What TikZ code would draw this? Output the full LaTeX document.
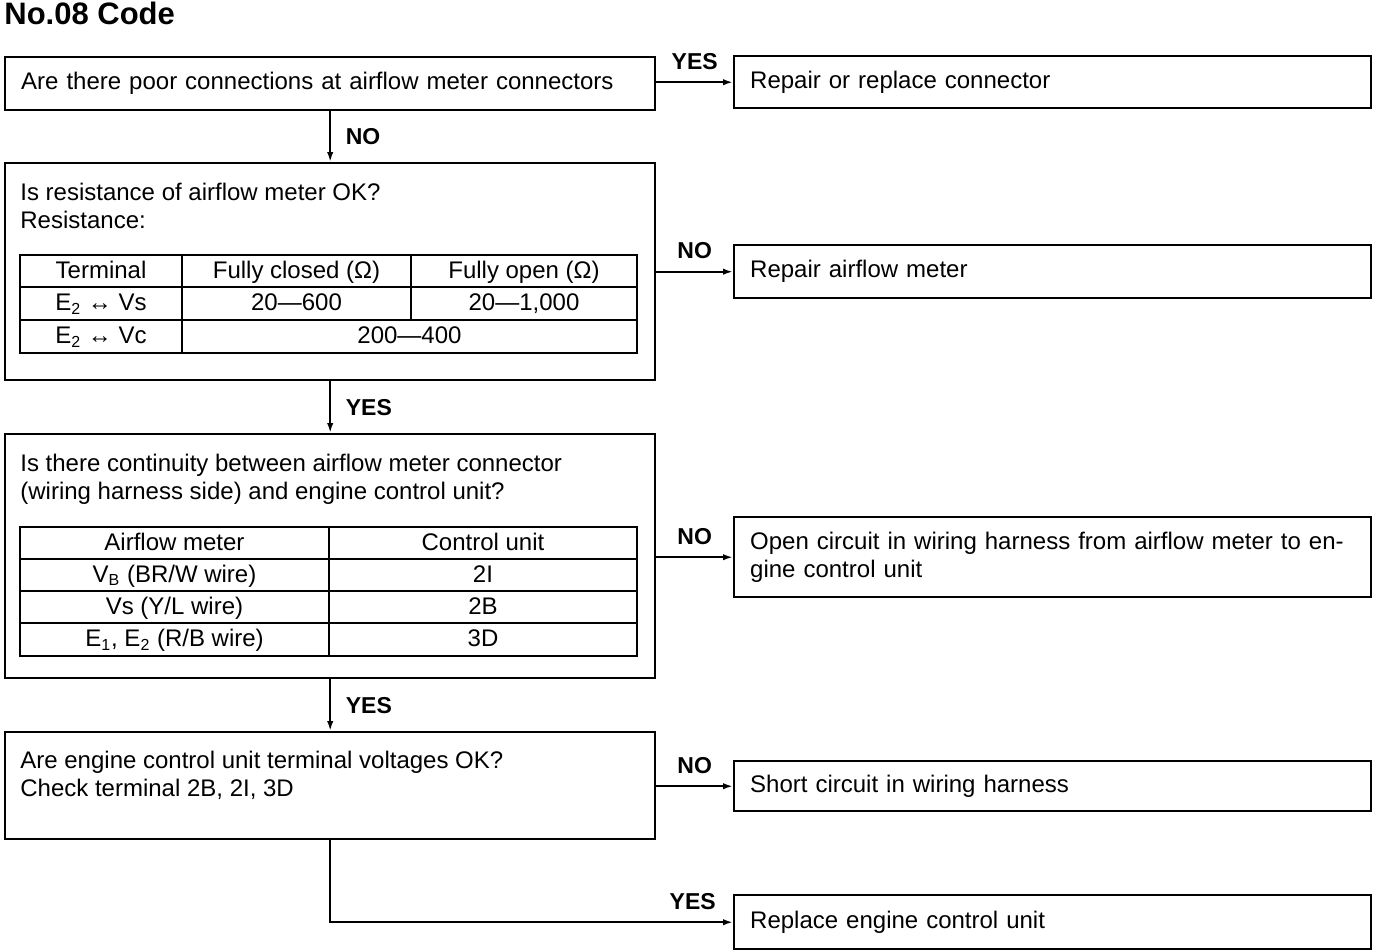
\documentclass[tikz,border=0pt]{standalone}
\usepackage{fontspec}
\setmainfont{Liberation Sans}
\usetikzlibrary{arrows.meta}
\tikzset{qbox/.style={rectangle,draw,line width=1.2pt,anchor=north west,minimum width=325pt,text width=309pt,align=left,inner xsep=8pt,inner ysep=0pt},
  abox/.style={rectangle,draw,line width=1.2pt,anchor=north west,minimum width=318.5pt,text width=302.5pt,align=left,inner xsep=8pt,inner ysep=0pt},
  txt/.style={anchor=north west,align=left,inner sep=0pt},
  cell/.style={text height=8.6pt,text depth=2.6pt,inner sep=0pt},
  lbl/.style={font=\bfseries\fontsize{11.5}{13}\selectfont},
  tab/.style={line width=1.1pt},
  line/.style={-{Latex[length=5pt,width=3.2pt]},line width=1pt}}

\begin{document}
\begin{tikzpicture}[x=0.5pt,y=-0.5pt,font=\fontsize{12}{14}\selectfont]
\useasboundingbox (0,0) rectangle (1392,950);
\node[anchor=west,inner sep=0pt,font=\bfseries\fontsize{15.5}{17}\selectfont] (title) at (4,13) {No.08 Code};

% questions
\node[qbox,minimum height=26.5pt] (q1) at (4,56) {Are there poor connections at airflow meter connectors};
\node[qbox,minimum height=108.5pt] (q2) at (4,162) {};
\node[txt] (t2) at (20,183) {Is resistance of airflow meter OK?\\Resistance:};
\node[qbox,minimum height=122pt] (q3) at (4,433) {};
\node[txt] (t3) at (20,454) {Is there continuity between airflow meter connector\\(wiring harness side) and engine control unit?};
\node[qbox,minimum height=53.5pt] (q4) at (4,731) {};
\node[txt] (t4) at (20,751) {Are engine control unit terminal voltages OK?\\Check terminal 2B, 2I, 3D};

% resistance table
\draw[tab] (20,255) rectangle (637,353) (20,287) -- (637,287) (20,320) -- (637,320)
  (182,255) -- (182,353) (411,255) -- (411,320);
\node[cell] (r11) at (101,272) {Terminal};
\node[cell] (r12) at (296.5,272) {Fully closed (Ω)};
\node[cell] (r13) at (524,272) {Fully open (Ω)};
\node[cell] (r21) at (101,304.5) {E\textsubscript{2} ↔ Vs};
\node[cell] (r22) at (296.5,304.5) {20—600};
\node[cell] (r23) at (524,304.5) {20—1,000};
\node[cell] (r31) at (101,337.5) {E\textsubscript{2} ↔ Vc};
\node[cell] (r32) at (409.5,337.5) {200—400};

% continuity table
\draw[tab] (20,527) rectangle (637,656) (20,559) -- (637,559) (20,591) -- (637,591)
  (20,623) -- (637,623) (329,527) -- (329,656);
\node[cell] (c11) at (174.5,544) {Airflow meter};
\node[cell] (c12) at (483,544) {Control unit};
\node[cell] (c21) at (174.5,576) {V\textsubscript{B} (BR/W wire)};
\node[cell] (c22) at (483,576) {2I};
\node[cell] (c31) at (174.5,608) {Vs (Y/L wire)};
\node[cell] (c32) at (483,608) {2B};
\node[cell] (c41) at (174.5,640.5) {E\textsubscript{1}, E\textsubscript{2} (R/B wire)};
\node[cell] (c42) at (483,640.5) {3D};

% answers
\node[abox,minimum height=26pt] (a1) at (733,55) {Repair or replace connector};
\node[abox,minimum height=26.5pt] (a2) at (733,244) {Repair airflow meter};
\node[abox,minimum height=40pt] (a3) at (733,516) {Open circuit in wiring harness from airflow meter to en-\\gine control unit};
\node[abox,minimum height=25pt] (a4) at (733,760) {Short circuit in wiring harness};
\node[abox,minimum height=27pt] (a5) at (733,894) {Replace engine control unit};

% connectors
\draw[line] (q1.east |- a1.west) -- node[lbl,above=2.5pt] (yes1) {YES} (a1.west);
\draw[line] (q1.south) -- node[lbl,right=4pt] (no1) {NO} (q2.north);
\draw[line] (q2.east |- a2.west) -- node[lbl,above=2.5pt] (no2) {NO} (a2.west);
\draw[line] (q2.south) -- node[lbl,right=4pt] (yes2) {YES} (q3.north);
\draw[line] (q3.east |- a3.west) -- node[lbl,above=2.5pt] (no3) {NO} (a3.west);
\draw[line] (q3.south) -- node[lbl,right=4pt] (yes3) {YES} (q4.north);
\draw[line] (q4.east |- a4.west) -- node[lbl,above=2.5pt] (no4) {NO} (a4.west);
\draw[line] (q4.south) |- node[lbl,above=2.5pt,pos=0.95] (yes4) {YES} (a5.west);
\end{tikzpicture}
\end{document}
